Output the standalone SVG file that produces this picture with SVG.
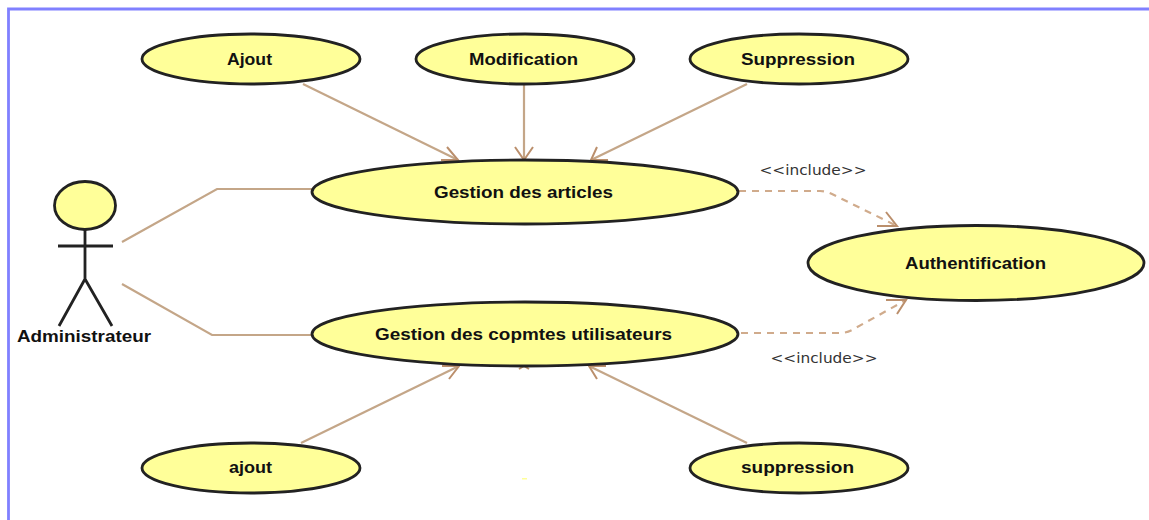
<svg xmlns="http://www.w3.org/2000/svg" width="1149" height="520" viewBox="0 0 1149 520">
<style>
.uc{fill:#ffff99;stroke:#222;stroke-width:2.800}
.t{font-family:"Liberation Sans",Arial,sans-serif;font-weight:bold;font-size:16px;fill:#111;text-anchor:middle}
.l{font-family:"DejaVu Sans",sans-serif;font-size:14px;fill:#333;text-anchor:middle}
.c{fill:none;stroke:#c4a688;stroke-width:2.200}
.h{fill:none;stroke:#bb8f6c;stroke-width:2}
.d{fill:none;stroke:#d0ab8c;stroke-width:2.200;stroke-dasharray:7 6}
.a{fill:none;stroke:#222;stroke-width:2.800}
</style>
<rect width="1149" height="520" fill="#fff"/>
<path d="M1149 9H8.500V520" fill="none" stroke="#8080ff" stroke-width="2.800"/>
<g id="connectors">
<path class="c" d="M122 242L217 189H312"/>
<path class="c" d="M122 284L212 335H312"/>
<path class="c" d="M303 84L458 160"/>
<path class="c" d="M524 84V160"/>
<path class="c" d="M747 84L591 160"/>
<path class="c" d="M301 443L459 366"/>
<path class="c" d="M747 443L589 366"/>
<path class="h" d="M441 160H458L447 147"/>
<path class="h" d="M515 147L524 160L533 147"/>
<path class="h" d="M597 147L591 160H608"/>
<path class="h" d="M442 366H459L449 379"/>
<path class="h" d="M519 369L524 366L529 369"/>
<path class="h" d="M606 366H589L597 379"/>
<path class="d" d="M739 191H820Q826 191 832 194L897 226"/>
<path class="h" d="M877 226H897L886 212"/>
<path class="d" d="M741 333H840Q846 333 852 330L906 300"/>
<path class="h" d="M886 300H906L897 314"/>
</g>
<g id="actor-administrateur">
<ellipse class="uc" cx="85" cy="205.500" rx="30.500" ry="24"/>
<path class="a" d="M85 230V279M58 246H113M85 279L59 326M85 279L112 326"/>
<text class="t" x="84" y="342" textLength="134" lengthAdjust="spacingAndGlyphs">Administrateur</text>
</g>
<g id="uc-ajout-article"><ellipse class="uc" cx="251" cy="59" rx="109" ry="25"/><text class="t" x="249.500" y="65" textLength="45" lengthAdjust="spacingAndGlyphs">Ajout</text></g>
<g id="uc-modification"><ellipse class="uc" cx="525" cy="59" rx="109" ry="25"/><text class="t" x="523.500" y="65" textLength="109" lengthAdjust="spacingAndGlyphs">Modification</text></g>
<g id="uc-suppression-article"><ellipse class="uc" cx="799" cy="59" rx="109" ry="25"/><text class="t" x="798" y="65" textLength="114" lengthAdjust="spacingAndGlyphs">Suppression</text></g>
<g id="uc-gestion-articles"><ellipse class="uc" cx="525" cy="192" rx="213" ry="32"/><text class="t" x="523.500" y="198" textLength="179" lengthAdjust="spacingAndGlyphs">Gestion des articles</text></g>
<g id="uc-gestion-comptes"><ellipse class="uc" cx="525" cy="334" rx="213" ry="32"/><text class="t" x="523.500" y="340" textLength="297" lengthAdjust="spacingAndGlyphs">Gestion des copmtes utilisateurs</text></g>
<g id="uc-authentification"><ellipse class="uc" cx="976" cy="263" rx="168" ry="37.500"/><text class="t" x="975.500" y="269" textLength="141" lengthAdjust="spacingAndGlyphs">Authentification</text></g>
<g id="uc-ajout-compte"><ellipse class="uc" cx="251" cy="468" rx="109" ry="25"/><text class="t" x="250.500" y="473" textLength="43" lengthAdjust="spacingAndGlyphs">ajout</text></g>
<g id="uc-suppression-compte"><ellipse class="uc" cx="799" cy="468" rx="109" ry="25"/><text class="t" x="797.500" y="473" textLength="113" lengthAdjust="spacingAndGlyphs">suppression</text></g>
<text class="l" x="813" y="175" textLength="107" lengthAdjust="spacingAndGlyphs">&lt;&lt;include&gt;&gt;</text>
<text class="l" x="824" y="363" textLength="107" lengthAdjust="spacingAndGlyphs">&lt;&lt;include&gt;&gt;</text>
<rect x="522" y="478" width="5" height="1.500" fill="#ffff99"/>
</svg>
